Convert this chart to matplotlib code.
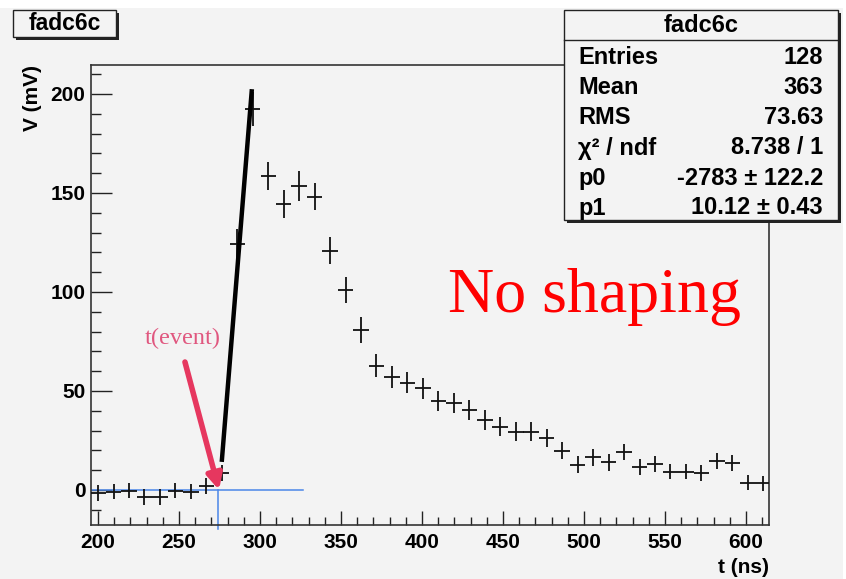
import numpy as np
import matplotlib.pyplot as plt
from matplotlib.patches import Rectangle
from matplotlib.ticker import MultipleLocator

# bin centres (ns), voltages (mV) and errors
t_ns = [200.0, 209.6, 219.1, 228.7, 238.2, 247.8, 257.3, 266.9, 276.4, 286.0,
        295.5, 305.1, 314.6, 324.2, 333.7, 343.3, 352.8, 362.4, 371.9, 381.5,
        391.0, 400.6, 410.1, 419.7, 429.2, 438.8, 448.3, 457.9, 467.4, 477.0,
        486.5, 496.1, 505.6, 515.2, 524.7, 534.3, 543.8, 553.4, 562.9, 572.5,
        582.0, 591.6, 601.1, 610.7]
v_mv = [-1.7, -0.8, -0.3, -3.7, -3.7, -0.3, -0.8, 2.0, 8.4, 124.1,
        192.4, 158.6, 144.4, 153.5, 148.1, 120.9, 101.0, 80.8, 62.8, 57.2,
        54.2, 51.4, 45.1, 43.8, 40.4, 35.4, 32.0, 29.5, 29.5, 26.4,
        19.9, 12.8, 16.5, 14.0, 19.0, 11.5, 13.0, 9.3, 9.3, 8.4,
        14.8, 13.8, 3.7, 3.4]
v_err = [4.0, 4.0, 4.0, 4.0, 4.0, 4.0, 4.0, 4.0, 4.0, 7.5,
         8.4, 7.0, 7.3, 7.8, 6.9, 6.7, 6.7, 6.4, 5.9, 5.6,
         5.4, 5.3, 5.0, 5.0, 5.0, 5.0, 4.8, 4.8, 4.7, 4.5,
         4.2, 4.2, 4.2, 4.3, 4.0, 4.0, 4.0, 4.0, 3.9, 4.0,
         4.0, 4.0, 3.8, 3.8]
bin_w = 9.55

# fit result
p0, p1 = -2783.0, 10.12
fit_range = [276.4, 295.0]
t_event = 274.1
baseline_end = 326.7

stats_labels = ["Entries", "Mean", "RMS", "\u03c7\u00b2 / ndf", "p0", "p1"]
stats_values = ["128", "363", "73.63", "8.738 / 1",
                "-2783 \u00b1 122.2", "10.12 \u00b1 0.43"]

W, H = 846, 579
bg = '#f3f3f3'
sans = ['Liberation Sans', 'DejaVu Sans']
serif = ['Liberation Serif', 'DejaVu Serif']

fig = plt.figure(figsize=(W / 100, H / 100), dpi=100, facecolor='white')
# ROOT canvas
fig.patches.append(Rectangle((0, 0), 843 / W, 1 - 8 / H, transform=fig.transFigure,
                             facecolor=bg, edgecolor='none', zorder=-10))

ax = fig.add_axes([91 / W, 1 - 525 / H, (769 - 91) / W, (525 - 65) / H])
ax.set_facecolor(bg)
ax.set_xlim(195.7, 614.2)
ax.set_ylim(-17.7, 214.6)

for s in ax.spines.values():
    s.set_color('#333333')
    s.set_linewidth(1.2)

ax.xaxis.set_major_locator(MultipleLocator(50))
ax.xaxis.set_minor_locator(MultipleLocator(10))
ax.yaxis.set_major_locator(MultipleLocator(50))
ax.yaxis.set_minor_locator(MultipleLocator(10))
ax.tick_params(axis='x', which='major', direction='in', length=10, width=1, color='#222222', pad=6)
ax.tick_params(axis='x', which='minor', direction='in', length=5.5, width=1, color='#222222')
ax.tick_params(axis='y', which='major', direction='in', length=15, width=1, color='#222222', pad=4)
ax.tick_params(axis='y', which='minor', direction='in', length=7.5, width=1, color='#222222')
for lab in ax.get_xticklabels() + ax.get_yticklabels():
    lab.set_family(sans)
    lab.set_fontweight('bold')
    lab.set_fontsize(15)

ax.set_xlabel('t (ns)', loc='right', fontsize=15, fontweight='bold', family=sans, labelpad=4)
ax.set_ylabel('V (mV)', loc='top', fontsize=15, fontweight='bold', family=sans, labelpad=6)

# histogram points with errors
ax.errorbar(t_ns, v_mv, yerr=v_err, xerr=bin_w / 2, fmt='none', ecolor='#111111',
            elinewidth=1.3, capsize=0, zorder=3)

# baseline and event time (blue)
ax.plot([195.7, baseline_end], [0, 0], color='#4a86e8', lw=1.1, zorder=2)
ax.plot([t_event, t_event], [0, -19.5], color='#4a86e8', lw=1.1, zorder=2, clip_on=False)

# linear fit on the rising edge
tf = np.array(fit_range)
ax.plot(tf, p0 + p1 * tf, color='black', lw=3.2, zorder=4, solid_capstyle='butt')

# annotation
ax.text(252.5, 76.5, 't(event)', color='#e0577f', fontsize=17.5, family=serif,
        ha='center', va='center')
ax.annotate('', xy=(274.7, 0), xytext=(253.7, 64.6),
            arrowprops=dict(arrowstyle='-|>,head_length=0.9,head_width=0.45',
                            color='#e6375f', lw=4, shrinkA=0, shrinkB=0), zorder=5)
ax.text(416, 90, 'No shaping', color='#ff0000', fontsize=46, family=serif,
        ha='left', va='baseline')


def box(x0, y0, x1, y1, z=10):
    # shadowed ROOT pave, pixel coords from top-left
    fig.patches.append(Rectangle((x0 / W + 2.5 / W, 1 - (y1 + 2.5) / H), (x1 - x0) / W, (y1 - y0) / H,
                                 transform=fig.transFigure, facecolor='#222222',
                                 edgecolor='none', zorder=z))
    fig.patches.append(Rectangle((x0 / W, 1 - y1 / H), (x1 - x0) / W, (y1 - y0) / H,
                                 transform=fig.transFigure, facecolor=bg,
                                 edgecolor='#222222', lw=1.0, zorder=z + 1))


# title pave
box(13, 10, 116, 37)
fig.text(65 / W, 1 - 24 / H, 'fadc6c', ha='center', va='center', fontsize=16.5,
         fontweight='bold', family=sans, zorder=20)

# stats pave
box(564, 10, 838, 220)
fig.add_artist(plt.Line2D([564 / W, 838 / W], [1 - 39.5 / H, 1 - 39.5 / H],
                          transform=fig.transFigure, color='#222222', lw=1.0, zorder=20))
fig.text(701 / W, 1 - 26 / H, 'fadc6c', ha='center', va='center', fontsize=17,
         fontweight='bold', family=sans, zorder=20)
for i, (lab, val) in enumerate(zip(stats_labels, stats_values)):
    y = 1 - (58 + 30 * i) / H
    fig.text(578 / W, y, lab, ha='left', va='center', fontsize=17,
             fontweight='bold', family=sans, zorder=20)
    fig.text(823 / W, y, val, ha='right', va='center', fontsize=17,
             fontweight='bold', family=sans, zorder=20)

fig.savefig('out.png', dpi=100, facecolor=fig.get_facecolor())
